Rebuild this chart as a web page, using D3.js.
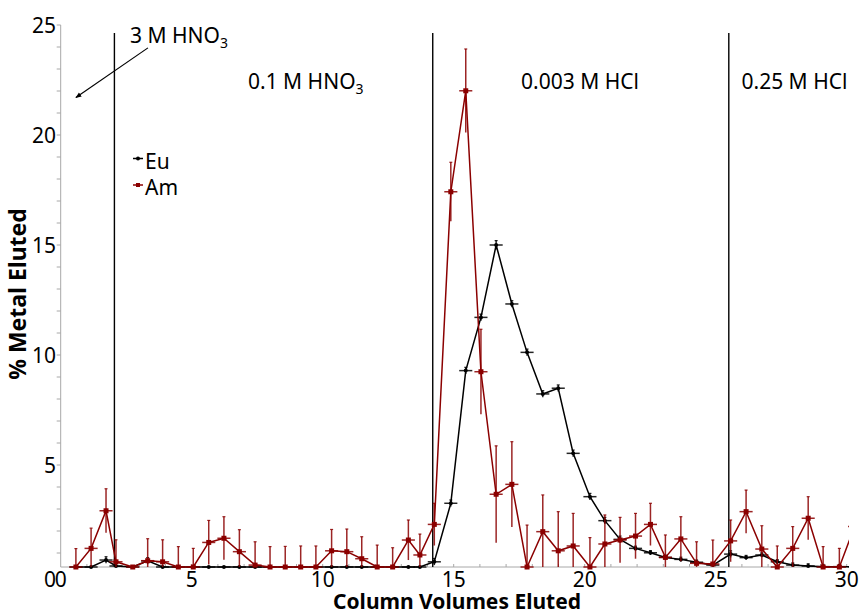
<!DOCTYPE html>
<html>
<head>
<meta charset="utf-8">
<script src="https://cdn.jsdelivr.net/npm/d3@7"></script>
<style>
  body { margin: 0; background: #fff; }
  svg { display: block; }
  text { font-family: "Noto Sans", "DejaVu Sans", sans-serif; fill: #000; }
</style>
</head>
<body>
<svg id="chart" width="862" height="614"></svg>
<script>
// Elution profile: column volumes eluted vs. % of metal eluted
const volumes = [0.58, 1.16, 1.73, 2.11, 2.75, 3.32, 3.89, 4.49, 5.06, 5.65, 6.23, 6.82, 7.42, 7.99,
  8.57, 9.16, 9.74, 10.34, 10.92, 11.49, 12.08, 12.67, 13.27, 13.71, 14.26, 14.89, 15.46, 16.04,
  16.62, 17.22, 17.80, 18.40, 18.99, 19.56, 20.20, 20.77, 21.35, 21.94, 22.51, 23.08, 23.67, 24.27,
  24.89, 25.57, 26.16, 26.76, 27.35, 27.94, 28.53, 29.10, 29.72, 30.30];

const euPercent = [0, 0, 0.68, 0.41, 0, 0.64, 0, 0, 0, 0, 0, 0, 0, 0,
  0, 0, 0, 0, 0, 0, 0, 0, 0, 0, 0.6, 3.26, 9.29, 11.71,
  15.0, 12.32, 10.12, 8.23, 8.49, 5.53, 3.56, 2.47, 1.62, 1.21, 1.01, 0.8, 0.71, 0.58,
  0.45, 0.95, 0.79, 0.91, 0.6, 0.45, 0.41, 0.38, 0.38, 0.38];

const amPercent = [0, 1.21, 2.92, 0.6, 0, 0.65, 0.6, 0, 0, 1.48, 1.67, 1.06, 0.45, 0,
  0, 0, 0, 1.1, 1.06, 0.74, 0, 0, 1.59, 0.91, 2.3, 17.42, 22.01, 9.24,
  3.67, 4.12, 0, 1.97, 1.1, 1.32, 0, 1.41, 1.59, 1.77, 2.3, 0.8, 1.64, 0.53,
  0.5, 1.55, 2.88, 1.18, 0, 1.21, 2.58, 0, 0, 2.2];

const euError = [0.15, 0.15, 0.15, 0.15, 0.1, 0.15, 0.1, 0.1, 0.1, 0.1, 0.1, 0.1, 0.1, 0.1,
  0.1, 0.1, 0.1, 0.1, 0.1, 0.1, 0.1, 0.1, 0.1, 0.1, 0.15, 0.15, 0.15, 0.15,
  0.2, 0.15, 0.15, 0.15, 0.15, 0.15, 0.15, 0.15, 0.15, 0.1, 0.1, 0.1, 0.1, 0.1,
  0.1, 0.15, 0.1, 0.1, 0.1, 0.1, 0.1, 0.1, 0.1, 0.1];

const amError = [1.2, 0.92, 1.0, 1.0, 0, 1.0, 1.0, 1.29, 1.21, 1.0, 0.98, 1.0, 1.06, 1.29,
  1.3, 1.32, 1.32, 0.97, 1.03, 1.0, 1.36, 1.24, 0.91, 0.95, 0.96, 1.34, 1.9, 1.93,
  2.2, 1.94, 2.27, 1.67, 1.78, 1.48, 1.7, 1.32, 1.03, 1.03, 0.96, 1.02, 1.01, 0.98,
  1.09, 0.95, 0.98, 1.06, 1.32, 0.99, 0.98, 1.29, 1.21, 1.0];

const volumeError = 0.25;

const xTicks = [0, 5, 10, 15, 20, 25, 30];
const yTicks = [0, 5, 10, 15, 20, 25];

// Eluent changes (column volumes) and the eluent in use after each
const eluentChanges = [2.05, 14.2, 25.5];
const eluentNames = [
  { text: "3 M HNO", sub: "3" },
  { text: "0.1 M HNO", sub: "3" },
  { text: "0.003 M HCl", sub: "" },
  { text: "0.25 M HCl", sub: "" }
];

const seriesNames = ["Eu", "Am"];
const seriesColors = ["#000000", "#8b0000"];

// ---------------------------------------------------------------
const svg = d3.select("#chart");
const plot = { left: 60.7, right: 846.7, top: 25, zero: 575, floor: 567 };

const x = d3.scaleLinear().domain([0, 30]).range([plot.left, plot.right]);
const yTick = d3.scaleLinear().domain([0, 25]).range([plot.zero, plot.top]);
// values below the visible floor sit on the horizontal axis
const y = d3.scaleLinear()
  .domain([yTick.invert(plot.floor), 25])
  .range([plot.floor, plot.top])
  .clamp(true);

const axisGrey = "#a8a8a8";

// clip region for the data
svg.append("defs").append("clipPath").attr("id", "plotClip")
  .append("rect").attr("x", plot.left - 10).attr("y", 0)
  .attr("width", 849 - (plot.left - 10)).attr("height", plot.floor + 12);

// ---- axes ----
const axes = svg.append("g");
axes.append("line")
  .attr("x1", plot.left).attr("x2", plot.left)
  .attr("y1", plot.top).attr("y2", plot.floor)
  .attr("stroke", axisGrey).attr("stroke-width", 1);
axes.append("line")
  .attr("x1", plot.left).attr("x2", 848)
  .attr("y1", plot.floor).attr("y2", plot.floor)
  .attr("stroke", axisGrey).attr("stroke-width", 1);

// y ticks every unit
d3.range(1, 26).forEach(v => {
  axes.append("line")
    .attr("x1", plot.left - 4).attr("x2", plot.left)
    .attr("y1", yTick(v)).attr("y2", yTick(v))
    .attr("stroke", axisGrey).attr("stroke-width", 1);
});
// x ticks every unit
d3.range(1, 31).forEach(v => {
  axes.append("line")
    .attr("x1", x(v)).attr("x2", x(v))
    .attr("y1", plot.floor).attr("y2", plot.floor - 3)
    .attr("stroke", axisGrey).attr("stroke-width", 1);
});

axes.selectAll("text.ytick").data(yTicks).join("text")
  .attr("class", "ytick")
  .attr("x", 56).attr("y", d => yTick(d) + (d === 0 ? 4 : 0))
  .attr("dy", "0.36em")
  .attr("text-anchor", "end")
  .attr("font-size", 21)
  .text(d => d);

axes.selectAll("text.xtick").data(xTicks).join("text")
  .attr("class", "xtick")
  .attr("x", d => x(d)).attr("y", 587)
  .attr("text-anchor", "middle")
  .attr("font-size", 21)
  .text(d => d);

svg.append("text")
  .attr("x", 457).attr("y", 608.5)
  .attr("text-anchor", "middle")
  .attr("font-size", 21).attr("font-weight", "bold")
  .text("Column Volumes Eluted");

svg.append("text")
  .attr("transform", "translate(26,294) rotate(-90)")
  .attr("text-anchor", "middle")
  .attr("font-size", 23).attr("font-weight", "bold")
  .text("% Metal Eluted");

// ---- eluent change markers ----
svg.selectAll("line.change").data(eluentChanges).join("line")
  .attr("class", "change")
  .attr("x1", d => x(d)).attr("x2", d => x(d))
  .attr("y1", 33).attr("y2", plot.floor)
  .attr("stroke", "#000").attr("stroke-width", 1.4);

const labelPos = [[130, 42.7], [248, 89], [521, 89], [741.5, 89]];
eluentNames.forEach((e, i) => {
  const t = svg.append("text")
    .attr("x", labelPos[i][0]).attr("y", labelPos[i][1])
    .attr("font-size", 21);
  t.append("tspan").text(e.text);
  if (e.sub) t.append("tspan").attr("font-size", 14).attr("dy", 5).text(e.sub);
});

// arrow from the first eluent label toward the load
svg.select("defs").append("marker")
  .attr("id", "arrowHead").attr("viewBox", "0 0 10 10")
  .attr("refX", 9).attr("refY", 5)
  .attr("markerWidth", 5).attr("markerHeight", 5)
  .attr("orient", "auto")
  .append("path").attr("d", "M0,1 L10,5 L0,9 Z").attr("fill", "#000");
svg.append("line")
  .attr("x1", x(3.33)).attr("y1", yTick(23.96))
  .attr("x2", x(0.58)).attr("y2", yTick(21.7))
  .attr("stroke", "#000").attr("stroke-width", 1.2)
  .attr("marker-end", "url(#arrowHead)");

// ---- data series ----
const dataLayer = svg.append("g").attr("clip-path", "url(#plotClip)");

function drawSeries(values, errors, color, shape) {
  const pts = volumes.map((v, i) => ({ v, p: values[i], e: errors[i] }));
  const g = dataLayer.append("g");
  const line = d3.line().x(d => x(d.v)).y(d => y(d.p));

  // vertical error bars
  g.selectAll("line.ey").data(pts.filter(d => d.e > 0)).join("line")
    .attr("x1", d => x(d.v)).attr("x2", d => x(d.v))
    .attr("y1", d => y(d.p - d.e)).attr("y2", d => y(d.p + d.e))
    .attr("stroke", color).attr("stroke-width", 1.5).attr("opacity", 0.85);
  g.selectAll("line.cap").data(pts.filter(d => d.e > 0)).join("line")
    .attr("x1", d => x(d.v) - 1.5).attr("x2", d => x(d.v) + 1.5)
    .attr("y1", d => y(d.p + d.e)).attr("y2", d => y(d.p + d.e))
    .attr("stroke", color).attr("stroke-width", 1.2).attr("opacity", 0.85);
  // horizontal error bars
  g.selectAll("line.ex").data(pts).join("line")
    .attr("x1", d => x(d.v - volumeError)).attr("x2", d => x(d.v + volumeError))
    .attr("y1", d => y(d.p)).attr("y2", d => y(d.p))
    .attr("stroke", color).attr("stroke-width", 1.5).attr("opacity", 0.85);

  g.append("path").datum(pts)
    .attr("d", line).attr("fill", "none")
    .attr("stroke", color).attr("stroke-width", 1.5);

  if (shape === "square") {
    g.selectAll("rect").data(pts).join("rect")
      .attr("x", d => x(d.v) - 2.5).attr("y", d => y(d.p) - 2.5)
      .attr("width", 5).attr("height", 5).attr("fill", color);
  } else {
    g.selectAll("circle").data(pts).join("circle")
      .attr("cx", d => x(d.v)).attr("cy", d => y(d.p))
      .attr("r", 2).attr("fill", color);
  }
}

drawSeries(euPercent, euError, seriesColors[0], "circle");
drawSeries(amPercent, amError, seriesColors[1], "square");

// ---- legend ----
const legend = svg.append("g");
seriesNames.forEach((name, i) => {
  const cy = 158.5 + i * 26.5;
  legend.append("line")
    .attr("x1", 133).attr("x2", 143).attr("y1", cy).attr("y2", cy)
    .attr("stroke", seriesColors[i]).attr("stroke-width", 1.5);
  if (i === 0) {
    legend.append("circle").attr("cx", 138).attr("cy", cy).attr("r", 2).attr("fill", seriesColors[i]);
  } else {
    legend.append("rect").attr("x", 136).attr("y", cy - 2).attr("width", 4).attr("height", 4)
      .attr("fill", seriesColors[i]);
  }
  legend.append("text")
    .attr("x", 145).attr("y", cy + 10)
    .attr("font-size", 21)
    .text(name);
});
</script>
</body>
</html>
